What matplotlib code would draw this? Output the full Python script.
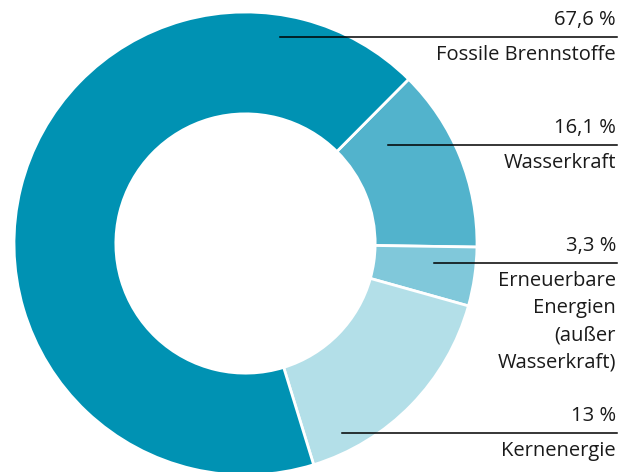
import matplotlib.pyplot as plt

plt.rcParams['font.family'] = ['Open Sans', 'DejaVu Sans']

## Data (clockwise from the upper right)
categories = ['Wasserkraft', 'Erneuerbare\nEnergien\n(außer\nWasserkraft)', 'Kernenergie', 'Fossile Brennstoffe']
value_labels = ['16,1 %', '3,3 %', '13 %', '67,6 %']
# sector sizes as drawn in the picture
shares = [12.8, 4.1, 15.9, 67.2]
colors = ['#52b3cc', '#80c8da', '#b3dfe8', '#0092b3']

## label layout (pixels from top, figure is 630 x 472)
line_y = [145, 263, 433, 37]
line_x0 = [388, 434, 342, 280]
line_x1 = 617

W, H = 630, 472
fig = plt.figure(figsize=(W / 100, H / 100), dpi=100)

cx, cy, r = 245.5, 243.5, 231.5
ax = fig.add_axes([(cx - r) / W, (H - cy - r) / H, 2 * r / W, 2 * r / H])
ax.pie(shares, colors=colors, startangle=90 - 44.8, counterclock=False,
       radius=1, wedgeprops=dict(width=0.44, edgecolor='white', linewidth=2))
ax.set_xlim(-1, 1)
ax.set_ylim(-1, 1)
ax.set_aspect('equal')
ax.axis('off')

def fx(px):
    return px / W

def fy(py):
    return 1 - py / H

for i in range(len(categories)):
    y = line_y[i]
    fig.add_artist(plt.Line2D([fx(line_x0[i]), fx(line_x1)], [fy(y), fy(y)],
                              color='black', lw=1.1, transform=fig.transFigure))
    fig.text(fx(line_x1 - 1), fy(y - 7), value_labels[i], ha='right', va='bottom',
             fontsize=14.5, color='#1a1a1a')
    fig.text(fx(line_x1 - 1), fy(y + 8), categories[i], ha='right', va='top',
             fontsize=14.5, color='#1a1a1a', multialignment='right', linespacing=1.47)

fig.savefig('out.png', dpi=100)
